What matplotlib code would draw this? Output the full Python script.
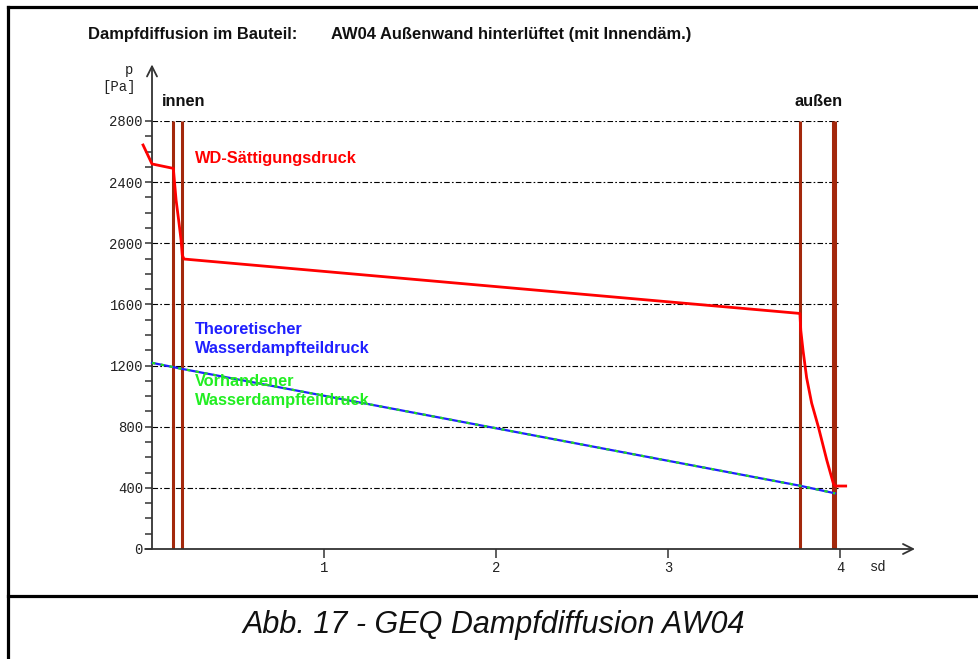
import numpy as np
import matplotlib
matplotlib.use("Agg")
import matplotlib.pyplot as plt
from matplotlib.lines import Line2D

# --- data ---
grid_p = [400, 800, 1200, 1600, 2000, 2400, 2800]
ytick_major = [0, 400, 800, 1200, 1600, 2000, 2400, 2800]
xtick_vals = [1, 2, 3, 4]
layer_sd = [0.124, 0.176, 3.767, 3.958, 3.972]

# saturation pressure (WD-Saettigungsdruck)
sat_sd = [-0.052, 0.0, 0.124, 0.14, 0.157, 0.169, 0.176, 0.186,
          3.767, 3.772, 3.785, 3.806, 3.835, 3.874, 3.923, 3.961, 3.972, 4.033]
sat_p = [2643, 2519, 2490, 2283, 2133, 2021, 1923, 1897,
         1541, 1430, 1300, 1120, 955, 800, 582, 430, 412, 412]

# theoretical / existing partial vapour pressure
theo_sd = [0.0, 0.124, 0.176, 3.767, 3.972]
theo_p = [1218, 1190, 1178, 414, 364]
vorh_sd = [0.0, 0.124, 0.176, 3.767, 3.972]
vorh_p = [1218, 1190, 1178, 414, 364]

W, H = 979, 659
fig = plt.figure(figsize=(W / 100, H / 100), dpi=100)
plt.rcParams['font.family'] = ['Liberation Sans', 'DejaVu Sans']


def fx(px):
    return px / W


def fy(py):
    return 1 - py / H


# frame around the figure
for xs, ys in [((8, W), (7, 7)), ((8, 8), (7, H)), ((8, W), (596, 596))]:
    fig.add_artist(Line2D([fx(x) for x in xs], [fy(y) for y in ys],
                          color='black', lw=2.3, solid_capstyle='projecting'))

ax = fig.add_axes([fx(152), fy(549), 4.5 * 172 / W, 428 / H])
ax.set_xlim(0, 4.5)
ax.set_ylim(0, 2800)
for s in ax.spines.values():
    s.set_visible(False)

axis_col = '#333333'
# axes with arrow heads
ax.annotate('', xy=(0, 3170), xytext=(0, 0), xycoords='data',
            arrowprops=dict(arrowstyle='->', color=axis_col, lw=1.3,
                            mutation_scale=18, shrinkA=0, shrinkB=0),
            annotation_clip=False)
ax.annotate('', xy=(4.436, 0), xytext=(-0.04, 0), xycoords='data',
            arrowprops=dict(arrowstyle='->', color=axis_col, lw=1.3,
                            mutation_scale=18, shrinkA=0, shrinkB=0),
            annotation_clip=False)

# ticks
mono = 'Liberation Mono'
ax.set_yticks(ytick_major)
ax.set_yticks(np.arange(0, 2801, 100), minor=True)
ax.set_xticks(xtick_vals)
ax.tick_params(axis='y', which='both', direction='out', length=5, width=1.1,
               color=axis_col, pad=1.5, labelsize=10)
ax.tick_params(axis='x', which='both', direction='out', length=6.5, width=1.1,
               color=axis_col, pad=2, labelsize=10)
for lab in ax.get_yticklabels() + ax.get_xticklabels():
    lab.set_fontfamily(mono)
    lab.set_color('#222222')

# horizontal dash-dot grid
ax.hlines(grid_p, 0, 3.99, colors='black', lw=0.8,
          linestyles=[(0, (5, 2, 1.5, 2))], zorder=1)

# layer boundaries
ax.vlines(layer_sd, 0, 2800, colors='#a3280c', lw=2.2, zorder=2)

# curves
ax.plot(sat_sd, sat_p, color='#ff0000', lw=2.0, zorder=4, clip_on=False)
ax.plot(theo_sd, theo_p, color='#2020ff', lw=1.6, zorder=3, clip_on=False)
ax.plot(vorh_sd, vorh_p, color='#22dd22', lw=1.6, ls=(0, (1.5, 2.5)),
        zorder=3.5, clip_on=False)

# labels inside plot
bold = dict(fontweight='bold', fontsize=11.8)
fig.text(fx(195), fy(159), 'WD-Sättigungsdruck', color='#ff0000', va='center', **bold)
fig.text(fx(195), fy(329), 'Theoretischer', color='#2020ff', va='center', **bold)
fig.text(fx(195), fy(348), 'Wasserdampfteildruck', color='#2020ff', va='center', **bold)
fig.text(fx(195), fy(381), 'Vorhandener', color='#22ee22', va='center', **bold)
fig.text(fx(195), fy(400), 'Wasserdampfteildruck', color='#22ee22', va='center', **bold)

fig.text(fx(162), fy(101), 'innen', color='#111111', va='center', **bold)
fig.text(fx(819), fy(101), 'außen', color='#111111', va='center', ha='center', **bold)

fig.text(fx(133), fy(70), 'p', family=mono, fontsize=10, ha='right', va='center', color='#222222')
fig.text(fx(136), fy(87), '[Pa]', family=mono, fontsize=10, ha='right', va='center', color='#222222')
fig.text(fx(878), fy(567), 'sd', family=mono, fontsize=10, ha='center', va='center', color='#222222')

# title row
fig.text(fx(88), fy(34), 'Dampfdiffusion im Bauteil:', fontsize=11.9, fontweight='bold',
         va='center', color='#111111')
fig.text(fx(331), fy(34), 'AW04 Außenwand hinterlüftet (mit Innendäm.)', fontsize=11.9,
         fontweight='bold', va='center', color='#111111')

# caption
fig.text(fx(494), fy(625), 'Abb. 17 - GEQ Dampfdiffusion AW04', fontsize=22,
         style='italic', ha='center', va='center', color='#111111')

fig.savefig('out.png', dpi=100)
